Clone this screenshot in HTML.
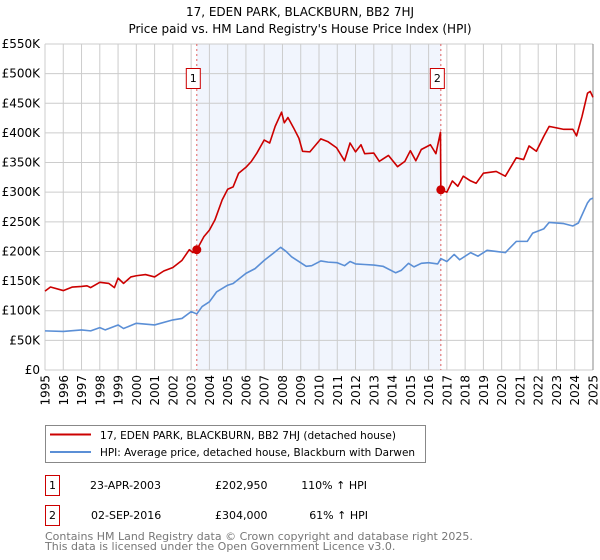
<!DOCTYPE html>
<html><head><meta charset="utf-8"><style>
body{margin:0;background:#fff;}
svg{display:block;font-family:"DejaVu Sans","Liberation Sans",sans-serif;}
</style></head><body>
<svg id="chart" width="600" height="560" viewBox="0 0 600 560" xmlns="http://www.w3.org/2000/svg">
<text x="300" y="16" text-anchor="middle" font-size="12" fill="#000">17, EDEN PARK, BLACKBURN, BB2 7HJ</text>
<text x="300" y="33" text-anchor="middle" font-size="12" fill="#000">Price paid vs. HM Land Registry's House Price Index (HPI)</text>
<g id="plot"></g>
<g>
<rect x="45.5" y="425.5" width="380" height="37" fill="#fff" stroke="#888"/>
<line x1="50" y1="434.5" x2="91" y2="434.5" stroke="#cc0000" stroke-width="2"/>
<text x="100" y="439" font-size="10.6" textLength="296" lengthAdjust="spacingAndGlyphs">17, EDEN PARK, BLACKBURN, BB2 7HJ (detached house)</text>
<line x1="50" y1="452" x2="91" y2="452" stroke="#5b8fd6" stroke-width="2"/>
<text x="100" y="456" font-size="10.6" textLength="315" lengthAdjust="spacingAndGlyphs">HPI: Average price, detached house, Blackburn with Darwen</text>
</g>
<g font-size="11">
<rect x="45.5" y="475.5" width="14" height="20" fill="#fff" stroke="#cc0000"/>
<text x="52.5" y="489" text-anchor="middle">1</text>
<text x="90" y="489">23-APR-2003</text>
<text x="215" y="489">£202,950</text>
<text x="367" y="489" text-anchor="end">110% ↑ HPI</text>
<rect x="45.5" y="505.5" width="14" height="20" fill="#fff" stroke="#cc0000"/>
<text x="52.5" y="519" text-anchor="middle">2</text>
<text x="91" y="519">02-SEP-2016</text>
<text x="215" y="519">£304,000</text>
<text x="368" y="519" text-anchor="end">61% ↑ HPI</text>
</g>
<text x="45" y="540" font-size="11" fill="#777">Contains HM Land Registry data © Crown copyright and database right 2025.</text>
<text x="45" y="550" font-size="11" fill="#777">This data is licensed under the Open Government Licence v3.0.</text>
</svg>
<script>
const yTicks=[0,50,100,150,200,250,300,350,400,450,500,550];
const yTickLabels=["£0","£50K","£100K","£150K","£200K","£250K","£300K","£350K","£400K","£450K","£500K","£550K"];
const xYears=[1995,1996,1997,1998,1999,2000,2001,2002,2003,2004,2005,2006,2007,2008,2009,2010,2011,2012,2013,2014,2015,2016,2017,2018,2019,2020,2021,2022,2023,2024,2025];
const saleDates=[2003.31,2016.67];
const salePrices=[202.95,304];
const saleLabels=["1","2"];
const propDates=[1995,1995.3,1996,1996.5,1997,1997.3,1997.5,1998,1998.5,1998.8,1999,1999.3,1999.7,2000,2000.5,2001,2001.5,2002,2002.5,2002.9,2003.1,2003.31,2003.7,2004,2004.3,2004.7,2005,2005.3,2005.6,2006,2006.3,2006.6,2007,2007.3,2007.6,2007.95,2008.1,2008.3,2008.6,2008.9,2009.1,2009.5,2010.1,2010.5,2010.96,2011.4,2011.7,2012,2012.3,2012.5,2013,2013.3,2013.8,2014.3,2014.7,2015,2015.3,2015.6,2016.1,2016.4,2016.65,2016.67,2017,2017.3,2017.6,2017.9,2018.3,2018.6,2019,2019.7,2020.2,2020.8,2021.2,2021.5,2021.9,2022.3,2022.6,2023.4,2023.9,2024.1,2024.4,2024.7,2024.85,2025];
const propValues=[133,140,134,140,141,142,139,148,146,139,155,146,157,159,161,157,167,173,185,203,198,202.95,225,236,253,287,305,309,332,342,352,366,388,383,411,435,417,426,409,391,369,368,390,385,375,353,383,368,380,365,366,352,362,343,352,370,353,372,380,365,401,304,300,319,310,327,319,315,332,335,327,358,355,378,369,394,411,406,406,395,428,467,470,460];
const hpiDates=[1995,1996,1997,1997.5,1998,1998.3,1999,1999.3,2000,2001,2002,2002.5,2003,2003.31,2003.6,2004,2004.4,2005,2005.3,2006,2006.5,2007,2007.5,2007.9,2008.2,2008.5,2009.3,2009.6,2010.1,2010.5,2011,2011.4,2011.7,2012,2012.5,2013,2013.5,2014.2,2014.5,2014.9,2015.2,2015.6,2016,2016.5,2016.67,2017,2017.4,2017.7,2018.3,2018.7,2019.2,2019.7,2020.2,2020.8,2021.4,2021.7,2022.3,2022.6,2023.4,2023.9,2024.2,2024.7,2024.85,2025];
const hpiValues=[66,65,67.6,66,71.5,67.6,76,70,78.8,76,84.5,87,98.5,94.6,107,115,132,143,146,163,171,185,197,207,200,191,175,176,184,182,181,176,183,179,178,177,175,164,168,180,174,180,181,179,188,183,195,186,198,192,202,200,198,217,217,231,238,249,247,243,248,282,288,290];

const X0=45,X1=593,Y0=370,YT=44;
function xs(yr){return X0+(yr-1995)/30*(X1-X0);}
function ys(v){return Y0-v/550*(Y0-YT);}
const NS="http://www.w3.org/2000/svg";
const g=document.getElementById('plot');
function mk(tag,attrs,parent){const e=document.createElementNS(NS,tag);for(const k in attrs)e.setAttribute(k,attrs[k]);(parent||g).appendChild(e);return e;}

let r=mk('rect',{x:xs(saleDates[0]),y:YT,width:xs(saleDates[1])-xs(saleDates[0]),height:Y0-YT,fill:'#f1f5fd'});



yTicks.forEach((v,i)=>{
  const l=mk('line',{x1:X0,x2:X1,y1:ys(v),y2:ys(v),stroke:'#cccccc','stroke-width':1});
  
  
  const t=mk('text',{x:40,y:ys(v)+4,'text-anchor':'end','font-size':12,fill:'#000'});
  t.textContent=yTickLabels[i];
  
  
});
xYears.forEach(yr=>{
  const l=mk('line',{x1:xs(yr),x2:xs(yr),y1:YT,y2:Y0,stroke:'#cccccc','stroke-width':1});
  
  
  const t=mk('text',{x:0,y:0,'text-anchor':'end','font-size':12,fill:'#000',transform:'translate('+(xs(yr)+4.5)+','+(Y0+5)+') rotate(-90)'});
  t.textContent=String(yr);
  
  
});
let ax=mk('line',{x1:X1,x2:X1,y1:YT,y2:Y0,stroke:'#888','stroke-width':1});



saleDates.forEach((d,i)=>{
  const l=mk('line',{x1:xs(d),x2:xs(d),y1:YT,y2:Y0,stroke:'#e06060','stroke-width':1,'stroke-dasharray':'2,3'});
  
  
});

function path(dates,vals,color,name){
  let d='';
  dates.forEach((yr,i)=>{d+=(i?'L':'M')+xs(yr).toFixed(2)+','+ys(vals[i]).toFixed(2);});
  const p=mk('path',{d:d,fill:'none',stroke:color,'stroke-width':1.6,'stroke-linejoin':'round'});
  
  
}
path(hpiDates,hpiValues,'#5b8fd6','hpi-line');
path(propDates,propValues,'#cc0000','property-price-line');

saleDates.forEach((d,i)=>{
  const c=mk('circle',{cx:xs(d),cy:ys(salePrices[i]),r:4.5,fill:'#cc0000'});
  
  
  const b=mk('rect',{x:xs(d)-10.5,y:68.5,width:14,height:20,fill:'#fff',stroke:'#cc0000'});
  
  
  const t=mk('text',{x:xs(d)-3.5,y:82,'text-anchor':'middle','font-size':11,fill:'#000'});
  t.textContent=saleLabels[i];
  
  
});
</script>
</body></html>
